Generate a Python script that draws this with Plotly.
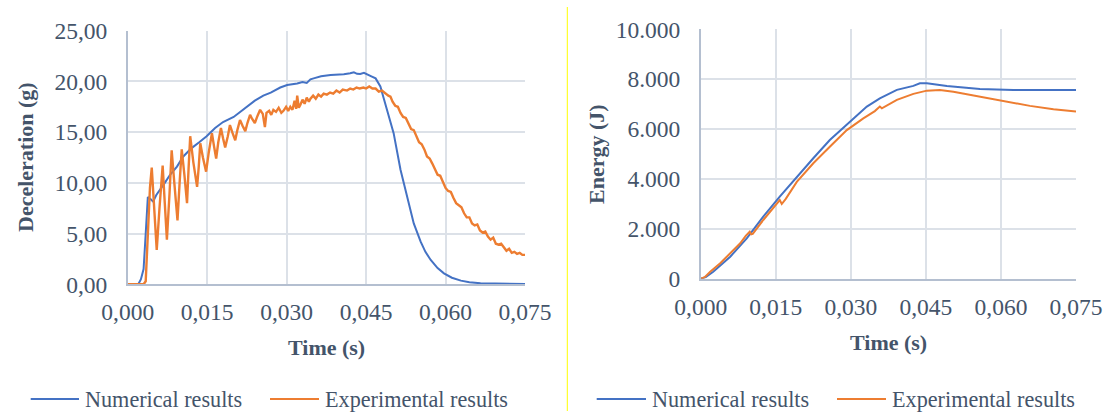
import plotly.graph_objects as go

# ---------------- data ----------------
# Left chart: deceleration (g) vs time (s)
num_dec_t = [0.0000, 0.0020, 0.0025, 0.0030, 0.0034, 0.0038, 0.0043, 0.0048, 0.0054, 0.0061,
             0.0070, 0.0080, 0.0093, 0.0105, 0.0120, 0.0135, 0.0149, 0.0165, 0.0180, 0.0200,
             0.0220, 0.0240, 0.0256, 0.0270, 0.0288, 0.0301, 0.0320, 0.0330, 0.0338, 0.0345,
             0.0351, 0.0365, 0.0383, 0.0400, 0.0408, 0.0420, 0.0427, 0.0433, 0.0439, 0.0446,
             0.0452, 0.0460, 0.0468, 0.0477, 0.0483, 0.0490, 0.0502, 0.0515, 0.0528, 0.0540,
             0.0553, 0.0562, 0.0572, 0.0585, 0.0597, 0.0612, 0.0629, 0.0645, 0.0666, 0.0700,
             0.0750]
num_dec_g = [0.00, 0.00, 0.50, 1.50, 5.00, 8.60, 8.40, 8.15, 8.80, 9.30,
             10.00, 10.80, 11.60, 12.60, 13.40, 14.00, 14.60, 15.40, 16.00, 16.50,
             17.30, 18.10, 18.60, 18.90, 19.40, 19.65, 19.80, 19.95, 19.85, 20.20,
             20.30, 20.50, 20.64, 20.65, 20.70, 20.80, 20.90, 20.75, 20.73, 20.85,
             20.73, 20.50, 20.30, 19.50, 18.40, 17.20, 14.90, 11.30, 8.60, 6.00,
             4.20, 3.20, 2.40, 1.60, 1.08, 0.65, 0.36, 0.20, 0.10, 0.05,
             0.03]

exp_dec_t = [0.0000, 0.0030, 0.0034, 0.0038, 0.0042, 0.00454, 0.0050, 0.00548, 0.0060, 0.0066,
             0.0070, 0.0074, 0.0079, 0.0083, 0.0088, 0.0094, 0.0098, 0.0102, 0.0107, 0.0112,
             0.0115, 0.0118, 0.0124, 0.0131, 0.0134, 0.0137, 0.0142, 0.0148, 0.0153, 0.0159,
             0.0163, 0.0167, 0.0171, 0.0176, 0.0180, 0.0184, 0.0189, 0.0193, 0.0198, 0.0203,
             0.0207, 0.0212, 0.0217, 0.0222, 0.0226, 0.0231, 0.0235, 0.0240, 0.0245, 0.0250,
             0.0255, 0.0259, 0.0262, 0.0267, 0.0271, 0.0275, 0.0280, 0.0285, 0.0290, 0.0294,
             0.0299, 0.0303, 0.0307, 0.0311, 0.0315, 0.0318, 0.0320, 0.0323, 0.0326, 0.0330,
             0.0334, 0.0338, 0.0342, 0.0345, 0.0350, 0.0355, 0.0360, 0.0365, 0.0370, 0.0376,
             0.0382, 0.0388, 0.0394, 0.0400, 0.0406, 0.0414, 0.0420, 0.0426, 0.0432, 0.0438,
             0.0445, 0.0450, 0.0456, 0.0462, 0.0468, 0.0474, 0.0480, 0.0486, 0.0492, 0.0496,
             0.0500, 0.0505, 0.0510, 0.0515, 0.0520, 0.0525, 0.0530, 0.0535, 0.0540, 0.0545,
             0.0550, 0.0555, 0.0560, 0.0565, 0.0570, 0.0575, 0.0580, 0.0585, 0.0590, 0.0595,
             0.0600, 0.0605, 0.0610, 0.0615, 0.0620, 0.0625, 0.0630, 0.0635, 0.0640, 0.0645,
             0.0650, 0.0655, 0.0660, 0.0665, 0.0670, 0.0675, 0.0680, 0.0685, 0.0690, 0.0695,
             0.0700, 0.0705, 0.0710, 0.0715, 0.0720, 0.0725, 0.0730, 0.0735, 0.0740, 0.0745,
             0.0750]
exp_dec_g = [0.0, 0.0, 0.3, 5.0, 9.5, 11.5, 7.5, 3.4, 7.5, 11.7,
             8.0, 4.4, 9.0, 13.2, 10.0, 6.3, 10.0, 13.3, 10.8, 8.0,
             11.5, 14.6, 12.0, 9.6, 11.5, 13.9, 12.5, 11.1, 13.0, 14.9,
             13.6, 12.4, 14.0, 15.4, 14.4, 13.5, 14.6, 15.7, 14.9, 14.2,
             15.2, 16.2, 15.6, 15.1, 15.9, 16.7, 16.3, 15.9, 16.6, 17.2,
             16.8, 15.5, 16.9, 17.1, 16.7, 17.2, 17.0, 17.4, 16.9, 17.1,
             17.5, 17.1, 17.5, 17.2, 18.1, 17.3, 18.6, 17.4, 17.7, 18.2,
             17.8, 18.4, 18.0, 18.3, 18.6, 18.3, 18.7, 18.5, 18.8, 18.7,
             18.9, 18.8, 19.1, 18.9, 19.2, 19.1, 19.3, 19.2, 19.4, 19.3,
             19.4, 19.3, 19.5, 19.3, 19.3, 19.0, 19.1, 18.8, 18.6, 18.5,
             18.0, 17.6, 17.5, 16.9, 16.5, 16.4, 15.8, 15.3, 15.2, 14.6,
             14.0, 13.8, 13.3, 12.6, 12.4, 11.9, 11.3, 10.8, 10.7, 10.1,
             9.5, 9.2, 9.1, 8.5, 8.0, 7.8, 7.6, 7.0, 6.6, 6.6,
             6.0, 5.8, 5.9, 5.3, 5.1, 5.2, 4.7, 4.4, 4.6, 4.0,
             3.9, 4.0, 3.6, 3.3, 3.5, 3.1, 3.2, 3.0, 3.1, 2.9,
             2.9]

# Right chart: energy (J) vs time (s)
num_en_t = [0.0000, 0.0010, 0.0025, 0.0059, 0.0092, 0.0125, 0.0158, 0.0192, 0.0225, 0.0258,
            0.0292, 0.0332, 0.0358, 0.0392, 0.0425, 0.0438, 0.0452, 0.0492, 0.0558, 0.0625,
            0.0750]
num_en_j = [0, 60, 281, 882, 1620, 2487, 3290, 4090, 4830, 5560,
            6160, 6900, 7230, 7570, 7730, 7835, 7835, 7730, 7610, 7570,
            7570]

exp_en_t = [0.0000, 0.0008, 0.0019, 0.0028, 0.0039, 0.0048, 0.0059, 0.0070, 0.0079, 0.0090,
            0.0098, 0.0101, 0.0104, 0.0125, 0.0150, 0.0158, 0.0162, 0.0170, 0.0192, 0.0225,
            0.0258, 0.0292, 0.0325, 0.0348, 0.0358, 0.0362, 0.0392, 0.0425, 0.0452, 0.0478,
            0.0505, 0.0558, 0.0600, 0.0658, 0.0705, 0.0750]
exp_en_j = [0, 60, 281, 420, 617, 800, 1019, 1250, 1420, 1720,
            1885, 1780, 1800, 2354, 2960, 3156, 2995, 3200, 3880, 4630,
            5290, 5960, 6430, 6720, 6900, 6830, 7170, 7410, 7540, 7570,
            7500, 7300, 7130, 6930, 6790, 6700]

# tick labels
time_ticks = [0.0, 0.015, 0.030, 0.045, 0.060, 0.075]
time_labels = ["0,000", "0,015", "0,030", "0,045", "0,060", "0,075"]
dec_ticks = [0, 5, 10, 15, 20, 25]
dec_labels = ["0,00", "5,00", "10,00", "15,00", "20,00", "25,00"]
en_ticks = [0, 2000, 4000, 6000, 8000, 10000]
en_labels = ["0", "2.000", "4.000", "6.000", "8.000", "10.000"]

series_names = ["Numerical results", "Experimental results"]

# ---------------- styles ----------------
W, H = 1120, 412
BLUE = "#4472C4"
ORANGE = "#ED7D31"
TXT = "#44546A"
GRID = "#DCE1E8"
AXIS = "#B4BFD0"
FONT = "Liberation Serif, Times New Roman, serif"


def px(x):
    return x / W


def py(y):
    return 1 - y / H


fig = go.Figure()
fig.add_trace(go.Scatter(x=num_dec_t, y=num_dec_g, mode="lines", name=series_names[0],
                         line=dict(color=BLUE, width=2), xaxis="x", yaxis="y", showlegend=False))
fig.add_trace(go.Scatter(x=exp_dec_t, y=exp_dec_g, mode="lines", name=series_names[1],
                         line=dict(color=ORANGE, width=2.4), xaxis="x", yaxis="y", showlegend=False))
fig.add_trace(go.Scatter(x=num_en_t, y=num_en_j, mode="lines", name=series_names[0],
                         line=dict(color=BLUE, width=2), xaxis="x2", yaxis="y2", showlegend=False))
fig.add_trace(go.Scatter(x=exp_en_t, y=exp_en_j, mode="lines", name=series_names[1],
                         line=dict(color=ORANGE, width=2), xaxis="x2", yaxis="y2", showlegend=False))

tickfont = dict(family=FONT, size=23.5, color=TXT)
common_x = dict(range=[0, 0.075], tickvals=time_ticks, ticktext=time_labels, tickfont=tickfont,
                showgrid=True, gridcolor=GRID, gridwidth=1.5, showline=True, linecolor=AXIS,
                linewidth=1.5, zeroline=False, ticks="", ticklabelstandoff=6, fixedrange=True,
                automargin=False)
common_y = dict(showgrid=True, gridcolor=GRID, gridwidth=1.5, showline=True, linecolor=AXIS,
                linewidth=1.5, zeroline=False, ticks="", tickfont=tickfont, ticklabelstandoff=14,
                fixedrange=True, automargin=False)

fig.update_layout(
    width=W, height=H,
    margin=dict(l=0, r=0, t=0, b=0, autoexpand=False),
    paper_bgcolor="white", plot_bgcolor="white",
    font=dict(family=FONT, color=TXT),
    xaxis=dict(domain=[px(127.7), px(525)], anchor="y", **common_x),
    yaxis=dict(domain=[py(284.3), py(30.7)], anchor="x", range=[0, 25],
               tickvals=dec_ticks, ticktext=dec_labels, **common_y),
    xaxis2=dict(domain=[px(700.7), px(1076)], anchor="y2", **common_x),
    yaxis2=dict(domain=[py(278.7), py(29.3)], anchor="x2", range=[0, 10000],
                tickvals=en_ticks, ticktext=en_labels, **common_y),
    showlegend=False,
)

title_font = dict(family=FONT, size=22, color=TXT)
annotations = [
    dict(text="<b>Deceleration (g)</b>", x=px(26), y=py(157), textangle=-90),
    dict(text="<b>Time (s)</b>", x=px(326), y=py(347)),
    dict(text="<b>Energy (J)</b>", x=px(596), y=py(154), textangle=-90),
    dict(text="<b>Time (s)</b>", x=px(888), y=py(342)),
]
for a in annotations:
    a.update(xref="paper", yref="paper", showarrow=False, font=title_font,
             xanchor="center", yanchor="middle")

# manual legends (line sample + label) below each chart
legend_items = [
    (30.7, 79, BLUE, series_names[0]),
    (270, 319, ORANGE, series_names[1]),
    (596.7, 646, BLUE, series_names[0]),
    (837, 886, ORANGE, series_names[1]),
]
shapes = []
LEG_Y = 399
for x0, x1, col, label in legend_items:
    shapes.append(dict(type="line", xref="paper", yref="paper", x0=px(x0), x1=px(x1),
                       y0=py(LEG_Y), y1=py(LEG_Y), line=dict(color=col, width=2)))
    annotations.append(dict(text=label, xref="paper", yref="paper", x=px(x1 + 4), y=py(LEG_Y),
                            xanchor="left", yanchor="middle", showarrow=False,
                            font=dict(family=FONT, size=22.2, color=TXT)))

# separator line between the two panels
shapes.append(dict(type="line", xref="paper", yref="paper", x0=px(567.3), x1=px(567.3),
                   y0=py(7), y1=py(411), line=dict(color="#FFFF00", width=1)))

fig.update_layout(annotations=annotations, shapes=shapes)

# remove the default 8px page margin so the 1120x412 figure fills the window exactly
fig.write_html(
    "out.html",
    config={"displayModeBar": False},
    post_script="document.body.style.margin='0';document.body.style.overflow='hidden';",
)
